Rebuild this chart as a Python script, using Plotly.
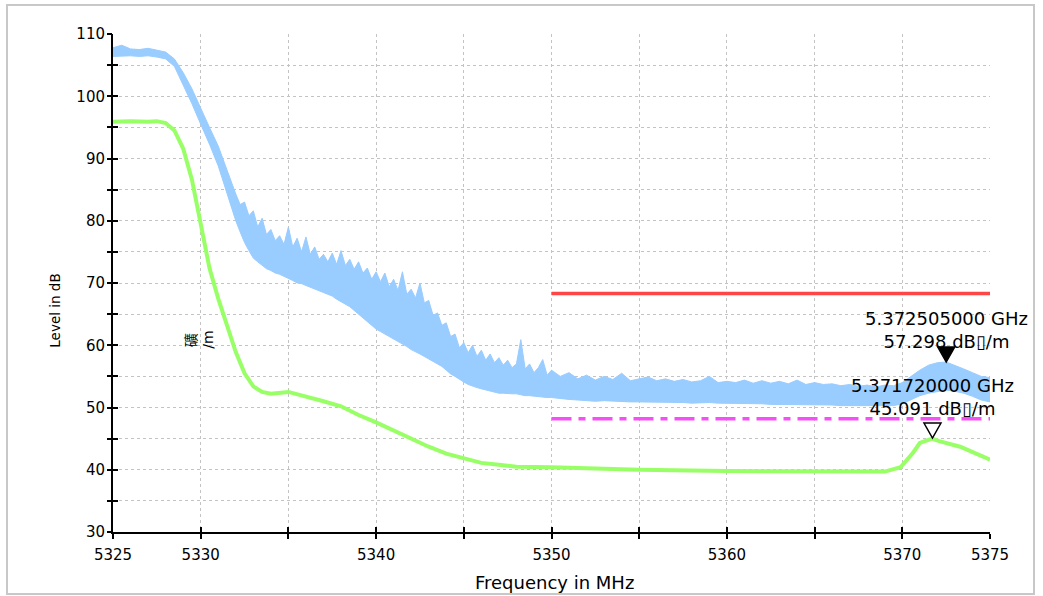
import plotly.graph_objects as go

# ---------------- data ----------------
blue_freq = [5325.0, 5325.5, 5326.0, 5326.5, 5327.0, 5327.5, 5328.0, 5328.5, 5329.0, 5329.5,
             5330.0, 5330.5, 5331.0, 5331.5,
             5332.0, 5332.25, 5332.5, 5332.75, 5333.0, 5333.25, 5333.5, 5333.75,
             5334.0, 5334.25, 5334.5, 5334.75, 5335.0, 5335.25, 5335.5, 5335.75,
             5336.0, 5336.25, 5336.5, 5336.75, 5337.0, 5337.25, 5337.5, 5337.75,
             5338.0, 5338.25, 5338.5, 5338.75, 5339.0, 5339.25, 5339.5, 5339.75,
             5340.0, 5340.25, 5340.5, 5340.75, 5341.0, 5341.25, 5341.5, 5341.75,
             5342.0, 5342.25, 5342.5, 5342.75, 5343.0, 5343.25, 5343.5, 5343.75,
             5344.0, 5344.25, 5344.5, 5344.75, 5345.0, 5345.25, 5345.5, 5345.75,
             5346.0, 5346.25, 5346.5, 5346.75, 5347.0, 5347.25, 5347.5, 5347.75,
             5348.0, 5348.25, 5348.5, 5348.75, 5349.0, 5349.25, 5349.5, 5349.75,
             5350.0, 5350.5, 5351.0, 5351.5, 5352.0, 5352.5, 5353.0, 5353.5, 5354.0, 5354.5,
             5355.0, 5355.5, 5356.0, 5356.5, 5357.0, 5357.5, 5358.0, 5358.5, 5359.0, 5359.5,
             5360.0, 5360.5, 5361.0, 5361.5, 5362.0, 5362.5, 5363.0, 5363.5, 5364.0, 5364.5,
             5365.0, 5365.5, 5366.0, 5366.5, 5367.0, 5367.5, 5368.0, 5368.5, 5369.0, 5369.5,
             5370.0, 5370.5, 5371.0, 5371.5, 5372.0, 5372.5, 5373.0, 5373.5, 5374.0, 5374.5,
             5375.0]
blue_max = [107.8, 108.2, 107.6, 107.5, 107.7, 107.4, 107.1, 106.0, 103.8, 101.2,
            98.0, 95.0, 92.0, 88.0,
            84.3, 82.6, 83.0, 80.8, 81.6, 79.0, 80.4, 77.8,
            78.6, 76.8, 77.6, 76.2, 79.0, 75.8, 77.2, 75.0,
            77.4, 74.6, 75.8, 73.8, 74.6, 73.4, 74.8, 73.0,
            75.2, 72.8, 73.8, 72.2, 73.4, 71.6, 72.4, 70.6,
            71.8, 70.2, 71.6, 69.4, 70.6, 68.8, 71.8, 68.2,
            69.0, 67.6, 70.0, 66.8, 67.2, 64.8, 65.2, 63.2,
            63.6, 61.4, 61.8, 59.6, 60.4, 58.8, 60.0, 58.2,
            59.2, 57.6, 58.6, 57.2, 58.0, 56.8, 57.6, 56.4,
            57.0, 60.9, 56.2, 57.0, 55.6, 56.4, 57.7, 55.2,
            56.0, 55.0, 55.6, 54.6, 55.2, 54.4, 55.0, 54.5, 55.5, 54.3,
            54.6, 54.9, 54.3, 54.6, 54.2, 54.5, 54.1, 54.3, 55.0, 54.0,
            54.2, 54.0, 54.4, 53.9, 54.3, 53.9, 54.2, 53.8, 54.4, 53.7,
            54.0, 53.7, 53.8, 53.5, 53.7, 53.4, 53.6, 53.3, 53.6, 53.5,
            54.0, 55.0, 56.0, 56.8, 57.2, 57.3, 56.8, 56.2, 55.6, 55.0,
            54.8]
blue_min = [106.4, 106.5, 106.5, 106.4, 106.5, 106.3, 106.0, 104.8, 101.8, 98.8,
            95.5, 92.3, 88.8, 84.3,
            80.0, 78.2, 76.5, 75.2, 74.0, 73.4, 72.8, 72.3,
            72.0, 71.6, 71.4, 71.1, 70.8, 70.4, 70.0, 69.9,
            69.6, 69.3, 69.0, 68.8, 68.5, 68.2, 67.9, 67.4,
            67.0, 66.6, 66.2, 65.6, 65.0, 64.4, 63.8, 63.2,
            62.6, 62.2, 61.8, 61.4, 61.0, 60.6, 60.3, 59.8,
            59.3, 59.0, 58.6, 58.2, 57.8, 57.4, 57.0, 56.6,
            56.0, 55.4, 55.0, 54.5, 54.1, 53.7, 53.4, 53.2,
            53.0, 52.8, 52.6, 52.4, 52.3, 52.3, 52.2, 52.2,
            52.2, 52.0, 51.9, 51.9, 51.8, 51.8, 51.7, 51.6,
            51.6, 51.4, 51.3, 51.2, 51.1, 51.0, 51.1, 51.0, 51.0, 50.9,
            50.9, 50.9, 50.8, 50.8, 50.8, 50.8, 50.7, 50.8, 50.8, 50.7,
            50.7, 50.7, 50.6, 50.6, 50.6, 50.5, 50.5, 50.5, 50.4, 50.4,
            50.5, 50.4, 50.4, 50.3, 50.3, 50.2, 50.2, 50.2, 50.2, 50.3,
            50.6, 51.3, 51.9, 52.3, 52.6, 52.8, 52.6, 52.3, 51.8, 51.2,
            50.9]

green_freq = [5325.0, 5326.0, 5327.0, 5327.5, 5328.0, 5328.5, 5329.0, 5329.5, 5330.0, 5330.5,
              5331.0, 5331.5, 5332.0, 5332.5, 5333.0, 5333.5, 5334.0, 5335.0, 5336.0, 5337.0,
              5338.0, 5339.0, 5340.0, 5341.0, 5342.0, 5343.0, 5344.0, 5345.0, 5346.0, 5347.0,
              5348.0, 5350.0, 5352.0, 5355.0, 5360.0, 5365.0, 5369.0, 5369.9, 5370.6, 5371.0,
              5371.7, 5372.1, 5373.3, 5374.7, 5375.0]
green_level = [95.9, 96.0, 95.9, 96.0, 95.7, 94.5, 91.6, 86.6, 79.5, 72.4,
               67.5, 63.4, 58.9, 55.5, 53.4, 52.5, 52.2, 52.5, 51.8, 51.0,
               50.2, 48.8, 47.6, 46.3, 45.0, 43.7, 42.6, 41.8, 41.1, 40.8,
               40.5, 40.4, 40.2, 40.0, 39.8, 39.7, 39.7, 40.4, 42.7, 44.3,
               45.0, 44.6, 43.7, 42.0, 41.6]

limit_freq = [5350, 5375]
peak_limit = [68.3, 68.3]
avg_limit = [48.2, 48.2]

marker_ghz = [5.372505, 5.371720]
marker_level = [57.298, 45.091]

x_ticks = [5325, 5330, 5335, 5340, 5345, 5350, 5355, 5360, 5365, 5370, 5375]
x_labels = ["5325", "5330", "", "5340", "", "5350", "", "5360", "", "5370", "5375"]
y_ticks = [30, 35, 40, 45, 50, 55, 60, 65, 70, 75, 80, 85, 90, 95, 100, 105, 110]
y_labels = ["30", "", "40", "", "50", "", "60", "", "70", "", "80", "", "90", "", "100", "", "110"]

# ---------------- styles ----------------
BLUE = "rgb(153,204,255)"
GREEN = "rgb(153,255,102)"
RED = "rgb(255,70,70)"
MAGENTA = "rgb(245,80,245)"
FONT = "DejaVu Sans"

fig = go.Figure()

fig.add_trace(go.Scatter(x=blue_freq, y=blue_min, mode="lines",
                         line=dict(color=BLUE, width=1), showlegend=False, hoverinfo="skip"))
fig.add_trace(go.Scatter(x=blue_freq, y=blue_max, mode="lines", fill="tonexty",
                         fillcolor=BLUE, line=dict(color=BLUE, width=1),
                         showlegend=False, hoverinfo="skip"))

fig.add_trace(go.Scatter(x=limit_freq, y=peak_limit, mode="lines",
                         line=dict(color=RED, width=3.5), showlegend=False))
fig.add_trace(go.Scatter(x=limit_freq, y=avg_limit, mode="lines",
                         line=dict(color=MAGENTA, width=3.5, dash="20px,7px,7px,7px"),
                         showlegend=False))

fig.add_trace(go.Scatter(x=green_freq, y=green_level, mode="lines", xaxis="x2", yaxis="y2",
                         line=dict(color=GREEN, width=4), showlegend=False))

# markers (triangles drawn as pixel-sized paths anchored on the data point)
mk_x = [g * 1000 for g in marker_ghz]
fills = ["black", "white"]
text_shift = [8, 17]
for fx, lv, fc in zip(mk_x, marker_level, fills):
    fig.add_shape(type="path", xref="x", yref="y", xsizemode="pixel", ysizemode="pixel",
                  xanchor=fx, yanchor=lv, path="M-8.5,15 L8.5,15 L0,0 Z",
                  fillcolor=fc, line=dict(color="black", width=1.5), layer="above")
for g, fx, lv, ys in zip(marker_ghz, mk_x, marker_level, text_shift):
    fig.add_annotation(x=fx, y=lv, xref="x", yref="y", showarrow=False,
                       text=f"{g:.9f} GHz<br>{lv:.3f} dB\u25af/m",
                       xanchor="center", yanchor="bottom", yshift=ys,
                       font=dict(family=FONT, size=18, color="black"), align="center")

# axis titles
fig.add_annotation(x=0.5029, y=-0.1024, xref="paper", yref="paper", text="Frequency in MHz",
                   showarrow=False, xanchor="center", yanchor="middle",
                   font=dict(family=FONT, size=18, color="black"))
fig.add_annotation(x=-0.0665, y=0.4438, xref="paper", yref="paper", text="Level in dB",
                   textangle=-90, showarrow=False, xanchor="center", yanchor="middle",
                   font=dict(family=FONT, size=13.5, color="black"))

# garbled unit text
fig.add_annotation(x=0.0745, y=0.3855, xref="paper", yref="paper", text="礦", textangle=-90,
                   showarrow=False, font=dict(family="Noto Sans CJK SC", size=14, color="black"))
fig.add_annotation(x=0.0965, y=0.3855, xref="paper", yref="paper", text="/m", textangle=-90,
                   showarrow=False, font=dict(family=FONT, size=14, color="black"))

# outer frame
fig.add_shape(type="rect", xref="paper", yref="paper",
              x0=(7 - 113) / 877, x1=(1034 - 113) / 877,
              y0=(532 - 594) / 498, y1=(532 - 5) / 498,
              line=dict(color="rgb(200,200,200)", width=2), fillcolor="rgba(0,0,0,0)", layer="below")

grid = dict(showgrid=True, gridcolor="rgb(195,195,195)", griddash="dot", gridwidth=1.3,
            showline=True, linecolor="black", linewidth=2, zeroline=False,
            ticklen=5, tickwidth=2, tickcolor="black",
            tickfont=dict(family=FONT, size=15, color="black"))

fig.update_layout(
    width=1043, height=596,
    margin=dict(l=113, r=53, t=34, b=64),
    paper_bgcolor="white", plot_bgcolor="white",
    xaxis=dict(range=[5325, 5375], tickmode="array", tickvals=x_ticks, ticktext=x_labels,
               ticks="outside", ticklabelstandoff=3, **grid),
    yaxis=dict(range=[30, 110], tickmode="array", tickvals=y_ticks, ticktext=y_labels,
               ticks="inside", ticklabelstandoff=3, **grid),
    xaxis2=dict(overlaying="x", matches="x", anchor="y2", side="bottom", showgrid=False,
                showline=False, ticks="inside", ticklen=5, tickwidth=2, tickcolor="black",
                tickmode="array", tickvals=x_ticks, showticklabels=False, zeroline=False),
    yaxis2=dict(overlaying="y", matches="y", anchor="x2", side="left", showgrid=False,
                showline=False, ticks="outside", ticklen=5, tickwidth=2, tickcolor="black",
                tickmode="array", tickvals=y_ticks, showticklabels=False, zeroline=False),
)

fig.write_html("out.html")
